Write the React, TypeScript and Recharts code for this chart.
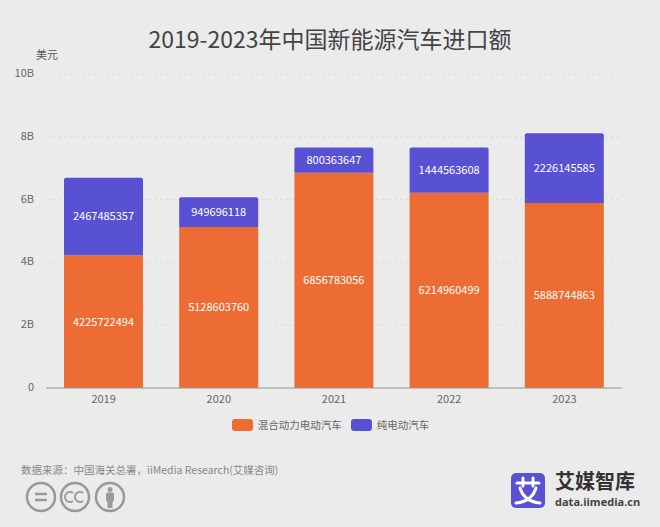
import { BarChart, Bar, XAxis, YAxis, CartesianGrid, LabelList, Legend } from "recharts";

const years = ["2019", "2020", "2021", "2022", "2023"];
const hybrid = [4225722494, 5128603760, 6856783056, 6214960499, 5888744863];
const electric = [2467485357, 949696118, 800363647, 1444563608, 2226145585];
const yTicks = [0, 2e9, 4e9, 6e9, 8e9, 10e9];

const data = years.map((year, i) => ({ year, hybrid: hybrid[i], electric: electric[i] }));

const FONT = '"Noto Sans CJK SC", "Noto Sans", sans-serif';
const ORANGE = "#ec6c33";
const PURPLE = "#5951d3";

const formatY = (v: number) => (v === 0 ? "0" : `${v / 1e9}B`);

const LegendContent = () => (
  <div style={{ display: "flex", justifyContent: "center", fontSize: 10.5, color: "#666", fontFamily: FONT, paddingLeft: 1 }}>
    <span style={{ display: "flex", alignItems: "center", marginRight: 9 }}>
      <i style={{ width: 21, height: 12, borderRadius: 3, background: ORANGE, marginRight: 5 }} />
      混合动力电动汽车
    </span>
    <span style={{ display: "flex", alignItems: "center" }}>
      <i style={{ width: 21, height: 12, borderRadius: 3, background: PURPLE, marginRight: 5 }} />
      纯电动汽车
    </span>
  </div>
);

const CcIcons = () => (
  <svg width={110} height={36} style={{ position: "absolute", left: 24, top: 480 }}>
    <g fill="none" stroke="#999" strokeWidth={2.5}>
      <circle cx={17} cy={17} r={14} />
      <circle cx={51} cy={17} r={14} />
      <circle cx={86} cy={17} r={14} />
      <path d="M11 14h12M11 20h12" />
      <path d="M49 13a5 5 0 1 0 0 8M59 13a5 5 0 1 0 0 8" strokeWidth={2} />
    </g>
    <g fill="#999">
      <circle cx={86} cy={9.5} r={2.5} />
      <rect x={82} y={12.5} width={8} height={9} rx={1.5} />
      <rect x={83.5} y={21} width={5} height={7} />
    </g>
  </svg>
);

const Logo = () => (
  <svg width={36} height={36} style={{ position: "absolute", left: 511, top: 473 }}>
    <rect width={34} height={35} rx={5} fill={PURPLE} />
    <g fill="none" stroke="#fff" strokeWidth={3} strokeLinecap="round">
      <path d="M6 10h22M12 5v8M22 5v8" />
      <path d="M9 15c3 10 10 14 20 15M25 15c-3 10-10 14-20 15" />
    </g>
  </svg>
);

export default function App() {
  return (
    <div style={{ position: "absolute", left: 0, top: 0, width: 660, height: 527, background: "#ebebeb", overflow: "hidden", fontFamily: FONT }}>
      <div style={{ position: "absolute", left: 0, right: 0, top: 21, textAlign: "center", fontSize: 23, color: "#444", lineHeight: "34px" }}>
        2019-2023年中国新能源汽车进口额
      </div>
      <div style={{ position: "absolute", left: 36, top: 46, fontSize: 11, color: "#555" }}>美元</div>

      <BarChart
        width={660}
        height={527}
        data={data}
        margin={{ top: 74, right: 38, left: 0, bottom: 94 }}
        barSize={79}
        style={{ position: "absolute", left: 0, top: 0 }}
      >
        <CartesianGrid vertical={false} stroke="#dcdcdc" strokeDasharray="3 3" />
        <XAxis
          dataKey="year"
          height={30}
          tickLine={false}
          axisLine={{ stroke: "#999" }}
          tick={{ fontSize: 11, fill: "#666", fontFamily: FONT }}
          tickMargin={1}
        />
        <YAxis
          width={46}
          domain={[0, 10e9]}
          ticks={yTicks}
          tickFormatter={formatY}
          tickLine={false}
          axisLine={false}
          tick={{ fontSize: 11, fill: "#666", fontFamily: FONT, dy: -1 }}
          tickMargin={6}
        />
        <Legend
          content={<LegendContent />}
          wrapperStyle={{ position: "absolute", left: 0, width: 660, top: 417 }}
        />
        <Bar dataKey="hybrid" stackId="a" fill={ORANGE} isAnimationActive={false}>
          <LabelList dataKey="hybrid" position="center" fill="#fff" fontSize={11} fontFamily={FONT} />
        </Bar>
        <Bar dataKey="electric" stackId="a" fill={PURPLE} radius={[2, 2, 0, 0]} isAnimationActive={false}>
          <LabelList dataKey="electric" position="center" fill="#fff" fontSize={11} fontFamily={FONT} />
        </Bar>
      </BarChart>

      <div style={{ position: "absolute", left: 21, top: 462, fontSize: 10.5, color: "#888", whiteSpace: "nowrap" }}>
        数据来源：中国海关总署，iiMedia Research(艾媒咨询)
      </div>
      <CcIcons />
      <Logo />
      <div style={{ position: "absolute", left: 555, top: 468, fontSize: 20, fontWeight: 700, color: "#333", lineHeight: "26px", whiteSpace: "nowrap" }}>
        艾媒智库
      </div>
      <div style={{ position: "absolute", left: 555, top: 495, fontSize: 11, fontWeight: 700, color: "#444", lineHeight: "14px", fontFamily: '"Open Sans", sans-serif', whiteSpace: "nowrap" }}>
        data.iimedia.cn
      </div>
    </div>
  );
}
